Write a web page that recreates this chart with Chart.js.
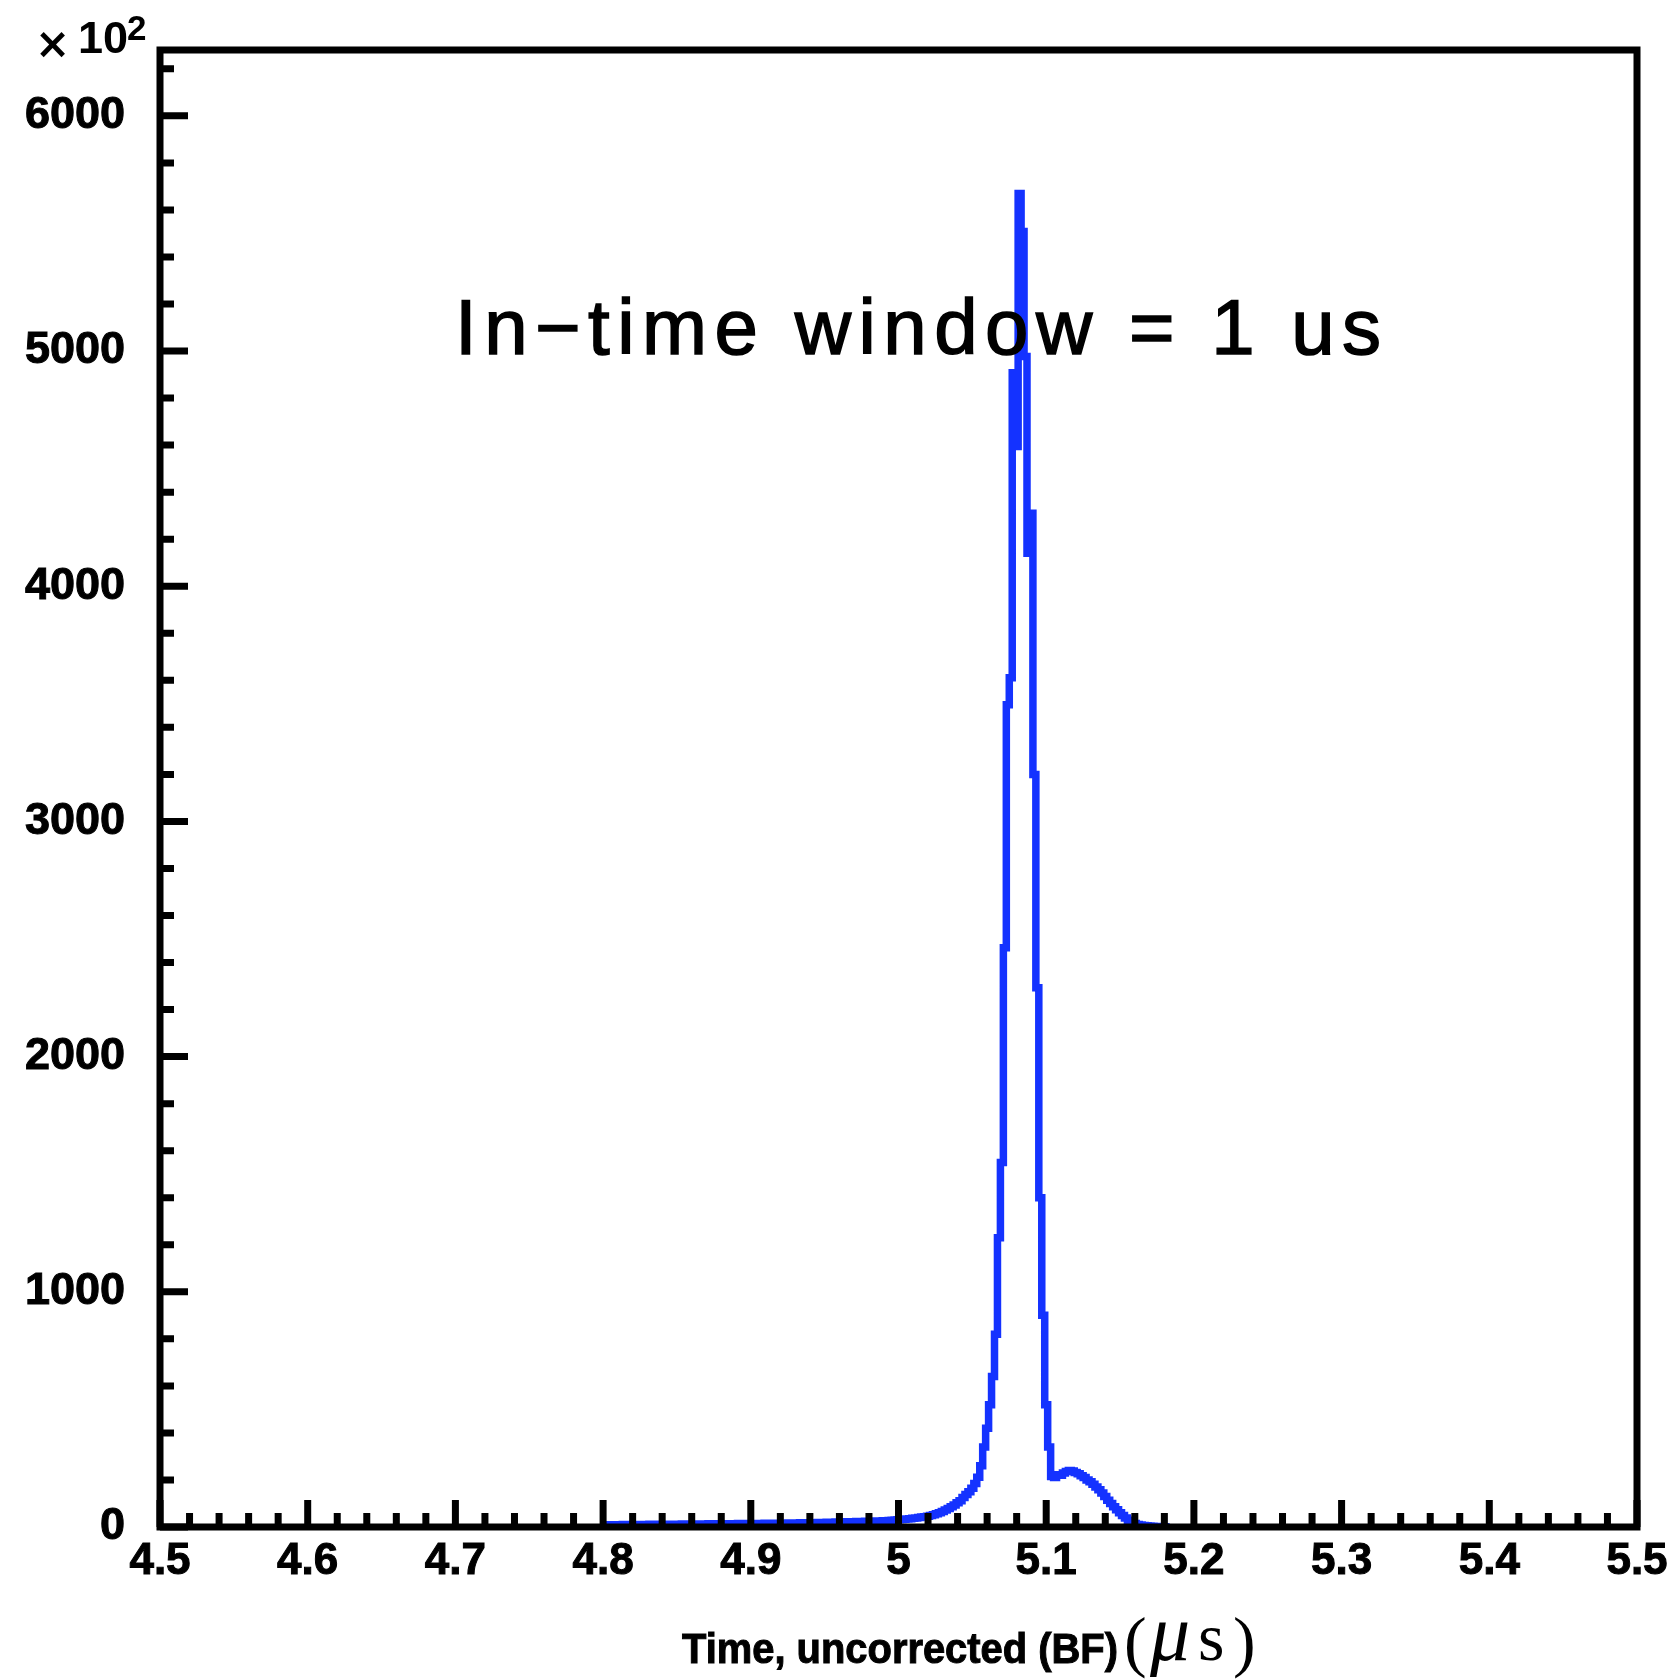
<!DOCTYPE html>
<html>
<head>
<meta charset="utf-8">
<script src="https://cdn.jsdelivr.net/npm/chart.js@4.4.1/dist/chart.umd.min.js"></script>
<style>
  html, body { margin: 0; padding: 0; background: #fff; }
  #wrap { width: 1676px; height: 1680px; }
</style>
</head>
<body>
<div id="wrap"><canvas id="timeChart"></canvas></div>
<script>
// histogram contents in units of 10^2, bins of 2 ns starting at 4.801 us
const binStart = 4.801;
const binWidth = 0.002;
const counts = [
  9, 10, 10, 10, 10, 10, 11, 11, 11, 11,
  11, 11, 11, 11, 11, 12, 12, 12, 12, 12,
  12, 12, 12, 12, 12, 12, 13, 13, 13, 13,
  13, 13, 13, 13, 13, 14, 14, 14, 14, 14,
  14, 14, 14, 14, 14, 15, 15, 15, 15, 15,
  15, 15, 15, 15, 16, 16, 16, 16, 16, 16,
  16, 16, 17, 17, 17, 17, 18, 18, 18, 18,
  18, 18, 19, 19, 19, 20, 20, 20, 21, 21,
  21, 21, 22, 22, 22, 23, 23, 23, 24, 24,
  24, 25, 25, 26, 27, 27, 28, 29, 30, 31,
  32, 33, 34, 35, 37, 38, 40, 42, 44, 46,
  49, 52, 56, 61, 66, 72, 79, 86, 94, 103,
  112, 125, 138, 150, 165, 185, 212, 260, 340, 420,
  520, 640, 820, 1230, 1550, 2463, 3496, 3611, 4908, 4594,
  5670, 5508, 4977, 4140, 4310, 3200, 2293, 1400, 900, 520,
  340, 215, 210, 222, 220, 230, 236, 240, 238, 232,
  226, 218, 210, 200, 192, 182, 170, 158, 145, 130,
  114, 100, 86, 73, 61, 49, 38, 29, 21, 15,
  11, 8, 6, 5, 4, 3, 2, 2, 1, 1
];

const xTickValues = [4.5, 4.6, 4.7, 4.8, 4.9, 5.0, 5.1, 5.2, 5.3, 5.4, 5.5];
const xTickLabels = ['4.5', '4.6', '4.7', '4.8', '4.9', '5', '5.1', '5.2', '5.3', '5.4', '5.5'];
const yTickValues = [0, 1000, 2000, 3000, 4000, 5000, 6000];
const yTickLabels = ['0', '1000', '2000', '3000', '4000', '5000', '6000'];

const xMin = 4.5, xMax = 5.5, xMajor = 0.1, xMinor = 0.02;
const yMin = 0, yMax = 6280, yMajor = 1000, yMinor = 200;

const lineColor = '#1432ff';

// step outline: start on the axis, one point per bin low edge, back to the axis
function buildOutline() {
  const pts = [{ x: binStart, y: 0 }];
  counts.forEach((c, i) => pts.push({ x: binStart + i * binWidth, y: c }));
  pts.push({ x: binStart + counts.length * binWidth, y: 0 });
  return pts;
}

// frame and inward ticks like ROOT, drawn over the histogram
const frameTicks = {
  id: 'frameTicks',
  afterDatasetsDraw(chart) {
    const { ctx, chartArea: a, scales: { x, y } } = chart;
    ctx.save();
    ctx.strokeStyle = '#000';
    ctx.lineWidth = 7;
    ctx.lineCap = 'butt';
    ctx.lineJoin = 'miter';
    ctx.beginPath();
    const nx = Math.round((xMax - xMin) / xMinor);
    const perX = Math.round(xMajor / xMinor);
    for (let k = 0; k <= nx; k++) {
      const px = x.getPixelForValue(xMin + k * xMinor);
      const len = k % perX === 0 ? 27 : 14;
      ctx.moveTo(px, a.bottom);
      ctx.lineTo(px, a.bottom - len);
    }
    const perY = Math.round(yMajor / yMinor);
    for (let k = 0; yMin + k * yMinor <= yMax; k++) {
      const py = y.getPixelForValue(yMin + k * yMinor);
      const len = k % perY === 0 ? 28 : 14;
      ctx.moveTo(a.left, py);
      ctx.lineTo(a.left + len, py);
    }
    ctx.stroke();
    ctx.strokeRect(a.left, a.top, a.right - a.left, a.bottom - a.top);
    ctx.restore();
  },
  afterDraw(chart) {
    const ctx = chart.ctx;
    ctx.save();
    ctx.fillStyle = '#000';
    ctx.strokeStyle = '#000';
    ctx.textBaseline = 'alphabetic';
    ctx.textAlign = 'left';

    // axis multiplier
    ctx.font = 'bold 42px "DejaVu Sans"';
    ctx.fillText('\u00d7', 35, 58);
    ctx.font = 'bold 45px "Liberation Sans"';
    ctx.fillText('10', 78, 53);
    ctx.font = 'bold 35px "Liberation Sans"';
    ctx.fillText('2', 127, 40);

    // annotation
    ctx.font = '78px "Liberation Sans"';
    ctx.letterSpacing = '7.5px';
    ctx.lineWidth = 1.5;
    ctx.fillText('In\u2212time window = 1 us', 455, 354);
    ctx.strokeText('In\u2212time window = 1 us', 455, 354);
    ctx.letterSpacing = '0px';

    // x axis title, ROOT font is narrow so squeeze it
    const title = 'Time, uncorrected (BF)';
    ctx.font = 'bold 42px "Liberation Sans"';
    const w = ctx.measureText(title).width;
    ctx.save();
    ctx.translate(682, 1663);
    ctx.scale(436 / w, 1);
    ctx.lineWidth = 1;
    ctx.fillText(title, 0, 0);
    ctx.strokeText(title, 0, 0);
    ctx.restore();

    ctx.font = '68px "Liberation Serif"';
    ctx.fillText('(', 1124, 1664);
    ctx.fillText(')', 1233, 1664);
    ctx.font = 'italic 80px "Liberation Serif"';
    ctx.fillText('\u03bc', 1150, 1660);
    ctx.font = '68px "Liberation Serif"';
    ctx.fillText('s', 1198, 1660);
    ctx.restore();
  }
};

function renderChart() {
  const ctx = document.getElementById('timeChart').getContext('2d');
  new Chart(ctx, {
    type: 'line',
    data: {
      datasets: [{
        data: buildOutline(),
        borderColor: lineColor,
        borderWidth: 7.5,
        stepped: 'before',
        pointRadius: 0,
        fill: false,
        borderJoinStyle: 'miter',
        borderCapStyle: 'butt'
      }]
    },
    options: {
      responsive: true,
      maintainAspectRatio: false,
      animation: false,
      devicePixelRatio: 1,
      layout: { padding: { top: 50, right: 39, left: 0, bottom: 0 } },
      plugins: { legend: { display: false }, tooltip: { enabled: false } },
      scales: {
        x: {
          type: 'linear',
          min: xMin,
          max: xMax,
          afterBuildTicks: s => { s.ticks = xTickValues.map(v => ({ value: v })); },
          afterFit: s => { s.height = 153; s.paddingLeft = 0; s.paddingRight = 0; },
          grid: { display: false },
          border: { display: false },
          ticks: {
            autoSkip: false,
            maxRotation: 0,
            padding: 0,
            color: '#000',
            textStrokeColor: '#000',
            textStrokeWidth: 1,
            font: { family: 'Liberation Sans', weight: 'bold', size: 44 },
            callback: (v, i) => xTickLabels[i]
          }
        },
        y: {
          min: yMin,
          max: yMax,
          afterBuildTicks: s => { s.ticks = yTickValues.map(v => ({ value: v })); },
          afterFit: s => { s.width = 160; s.paddingTop = 0; s.paddingBottom = 0; },
          grid: { display: false },
          border: { display: false },
          ticks: {
            padding: 27,
            color: '#000',
            textStrokeColor: '#000',
            textStrokeWidth: 1,
            font: { family: 'Liberation Sans', weight: 'bold', size: 45 },
            callback: (v, i) => yTickLabels[i]
          }
        }
      }
    },
    plugins: [frameTicks]
  });
}

renderChart();
</script>
</body>
</html>
